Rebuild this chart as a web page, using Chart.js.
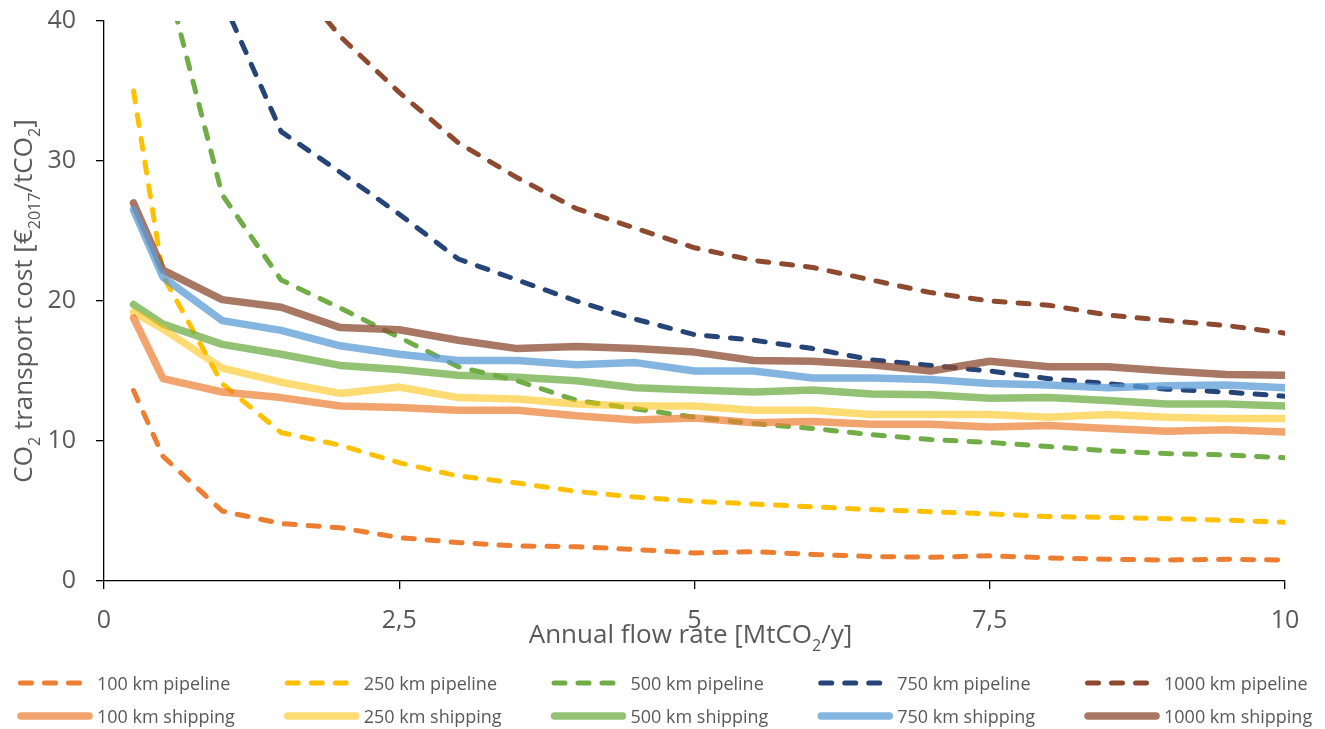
<!DOCTYPE html>
<html>
<head>
<meta charset="utf-8">
<title>CO2 transport cost</title>
<script src="https://cdn.jsdelivr.net/npm/chart.js@4.4.1/dist/chart.umd.min.js"></script>
<style>
  html, body { margin: 0; padding: 0; background: #fff; }
  .chart-wrap { position: relative; width: 1325px; height: 729px; }
</style>
</head>
<body>
<div class="chart-wrap"><canvas id="costChart"></canvas></div>
<script>
// annual flow rate [MtCO2/y]
const flowRates = [0.25, 0.5, 1, 1.5, 2, 2.5, 3, 3.5, 4, 4.5, 5, 5.5, 6, 6.5, 7, 7.5, 8, 8.5, 9, 9.5, 10];

// pipeline costs [EUR2017/tCO2]
const pipe100 = [13.6, 8.9, 5.0, 4.1, 3.8, 3.1, 2.75, 2.5, 2.45, 2.25, 2.0, 2.1, 1.9, 1.75, 1.7, 1.8, 1.65, 1.55, 1.5, 1.55, 1.5];
const pipe250 = [35.0, 21.8, 14.1, 10.6, 9.7, 8.45, 7.5, 7.0, 6.4, 6.0, 5.7, 5.5, 5.3, 5.1, 4.95, 4.8, 4.6, 4.55, 4.45, 4.35, 4.2];
const pipe500 = [null, 44.0, 27.6, 21.5, 19.5, 17.4, 15.3, 14.3, 12.9, 12.3, 11.7, 11.25, 10.9, 10.45, 10.1, 9.9, 9.6, 9.3, 9.1, 9.0, 8.8];
const pipe750 = [null, null, 41.6, 32.1, 29.2, 26.2, 23.0, 21.5, 20.0, 18.7, 17.6, 17.2, 16.6, 15.8, 15.4, 15.0, 14.45, 14.1, 13.7, 13.5, 13.2];
const pipe1000 = [null, null, null, 44.0, 38.9, 34.9, 31.3, 28.8, 26.6, 25.2, 23.8, 22.9, 22.4, 21.5, 20.6, 20.0, 19.7, 19.0, 18.6, 18.25, 17.7];

// shipping costs [EUR2017/tCO2]
const ship100 = [18.8, 14.45, 13.5, 13.1, 12.5, 12.4, 12.2, 12.2, 11.8, 11.5, 11.65, 11.3, 11.4, 11.2, 11.2, 11.0, 11.1, 10.9, 10.7, 10.8, 10.65];
const ship250 = [19.2, 18.0, 15.2, 14.2, 13.4, 13.85, 13.1, 13.0, 12.65, 12.5, 12.5, 12.2, 12.2, 11.9, 11.9, 11.9, 11.7, 11.9, 11.7, 11.6, 11.6];
const ship500 = [19.75, 18.35, 16.9, 16.2, 15.4, 15.1, 14.7, 14.55, 14.3, 13.8, 13.65, 13.5, 13.65, 13.35, 13.3, 13.05, 13.1, 12.9, 12.65, 12.65, 12.5];
const ship750 = [26.5, 21.7, 18.6, 17.9, 16.8, 16.2, 15.75, 15.75, 15.45, 15.6, 15.0, 15.0, 14.5, 14.5, 14.4, 14.1, 14.0, 13.8, 13.95, 14.0, 13.8];
const ship1000 = [27.0, 22.2, 20.1, 19.55, 18.1, 17.95, 17.2, 16.6, 16.75, 16.6, 16.35, 15.75, 15.7, 15.45, 15.0, 15.7, 15.3, 15.3, 15.0, 14.75, 14.7];

const xTicks = [0, 2.5, 5, 7.5, 10];
const yTicks = [0, 10, 20, 30, 40];

const FONT = '"Open Sans", sans-serif';
const TEXT_COLOR = '#595959';

const pipeLine = (label, data, color) => ({
  label: label,
  data: data,
  borderColor: color,
  borderWidth: 5,
  borderDash: [11, 13],
  borderCapStyle: 'round',
  borderJoinStyle: 'round',
  order: 2
});

const shipLine = (label, data, color) => ({
  label: label,
  data: data,
  borderColor: color,
  borderWidth: 7.5,
  borderCapStyle: 'round',
  borderJoinStyle: 'round',
  order: 1
});

// draws text runs, some of them as subscripts; returns total width
function drawRich(ctx, parts, x, y, size, measureOnly) {
  let w = 0;
  parts.forEach(p => {
    const s = p[1] ? size * 0.62 : size;
    ctx.font = s + 'px ' + FONT;
    if (!measureOnly) ctx.fillText(p[0], x + w, y + (p[1] ? size * 0.3 : 0));
    w += ctx.measureText(p[0]).width;
  });
  return w;
}

const xTitle = [['Annual flow rate [MtCO', 0], ['2', 1], ['/y]', 0]];
const yTitle = [['CO', 0], ['2', 1], [' transport cost [€', 0], ['2017', 1], ['/tCO', 0], ['2', 1], [']', 0]];

const extras = {
  id: 'extras',
  afterDraw(chart) {
    const ctx = chart.ctx;
    const area = chart.chartArea;
    ctx.save();
    ctx.fillStyle = TEXT_COLOR;
    ctx.textBaseline = 'alphabetic';
    ctx.textAlign = 'left';

    // x axis title
    let w = drawRich(ctx, xTitle, 0, 0, 26, true);
    drawRich(ctx, xTitle, (area.left + area.right) / 2 - 4 - w / 2, 643, 26);

    // y axis title
    w = drawRich(ctx, yTitle, 0, 0, 26, true);
    ctx.save();
    ctx.translate(32, (area.top + area.bottom) / 2);
    ctx.rotate(-Math.PI / 2);
    drawRich(ctx, yTitle, -w / 2, 0, 26);
    ctx.restore();

    // legend: pipelines on the first row, shipping on the second
    chart.data.datasets.forEach((ds, i) => {
      const row = Math.floor(i / 5);
      const col = i % 5;
      const x = 18 + col * 266.75;
      const y = row === 0 ? 683 : 716;
      ctx.save();
      ctx.strokeStyle = ds.borderColor;
      ctx.lineWidth = ds.borderWidth;
      ctx.lineCap = 'round';
      ctx.setLineDash(ds.borderDash || []);
      ctx.beginPath();
      if (ds.borderDash) {
        ctx.moveTo(x + 2.5, y);
        ctx.lineTo(x + 64, y);
      } else {
        ctx.moveTo(x + 3, y);
        ctx.lineTo(x + 71, y);
      }
      ctx.stroke();
      ctx.restore();
      ctx.font = '18px ' + FONT;
      ctx.fillText(ds.label, x + 79, y + 6.5);
    });
    ctx.restore();
  }
};

const config = {
  type: 'line',
  data: {
    labels: flowRates,
    datasets: [
      pipeLine('100 km pipeline', pipe100, '#ED7D31'),
      pipeLine('250 km pipeline', pipe250, '#FFC000'),
      pipeLine('500 km pipeline', pipe500, '#70AD47'),
      pipeLine('750 km pipeline', pipe750, '#264478'),
      pipeLine('1000 km pipeline', pipe1000, '#8E4A2E'),
      shipLine('100 km shipping', ship100, 'rgba(237,125,49,0.7)'),
      shipLine('250 km shipping', ship250, 'rgba(255,192,0,0.55)'),
      shipLine('500 km shipping', ship500, 'rgba(112,173,71,0.75)'),
      shipLine('750 km shipping', ship750, 'rgba(91,155,213,0.75)'),
      shipLine('1000 km shipping', ship1000, 'rgba(140,75,50,0.75)')
    ]
  },
  options: {
    responsive: true,
    maintainAspectRatio: false,
    animation: false,
    events: [],
    layout: {
      padding: { top: 21, right: 40, left: 0, bottom: 0 }
    },
    elements: {
      point: { radius: 0 },
      line: { tension: 0 }
    },
    datasets: {
      line: { clip: 0, spanGaps: false }
    },
    plugins: {
      legend: { display: false },
      tooltip: { enabled: false }
    },
    scales: {
      x: {
        type: 'linear',
        min: 0,
        max: 10,
        afterFit: scale => {
          scale.height = 148;
          scale.paddingLeft = 0;
          scale.paddingRight = 0;
        },
        afterBuildTicks: scale => { scale.ticks = xTicks.map(v => ({ value: v })); },
        grid: { drawOnChartArea: false, drawTicks: true, tickLength: 8, color: '#000', lineWidth: 1.3 },
        border: { display: true, color: '#000', width: 1.3 },
        ticks: {
          padding: 17,
          color: TEXT_COLOR,
          font: { family: FONT, size: 25 },
          maxRotation: 0,
          callback: v => String(v).replace('.', ',')
        }
      },
      y: {
        min: 0,
        max: 40,
        afterFit: scale => {
          scale.width = 104;
          scale.paddingTop = 0;
          scale.paddingBottom = 0;
        },
        afterBuildTicks: scale => { scale.ticks = yTicks.map(v => ({ value: v })); },
        grid: { drawOnChartArea: false, drawTicks: true, tickLength: 8, color: '#000', lineWidth: 1.3 },
        border: { display: true, color: '#000', width: 1.3 },
        ticks: {
          padding: 20,
          color: TEXT_COLOR,
          font: { family: FONT, size: 25 }
        }
      }
    }
  },
  plugins: [extras]
};

const costChart = new Chart(document.getElementById('costChart'), config);
</script>
</body>
</html>
